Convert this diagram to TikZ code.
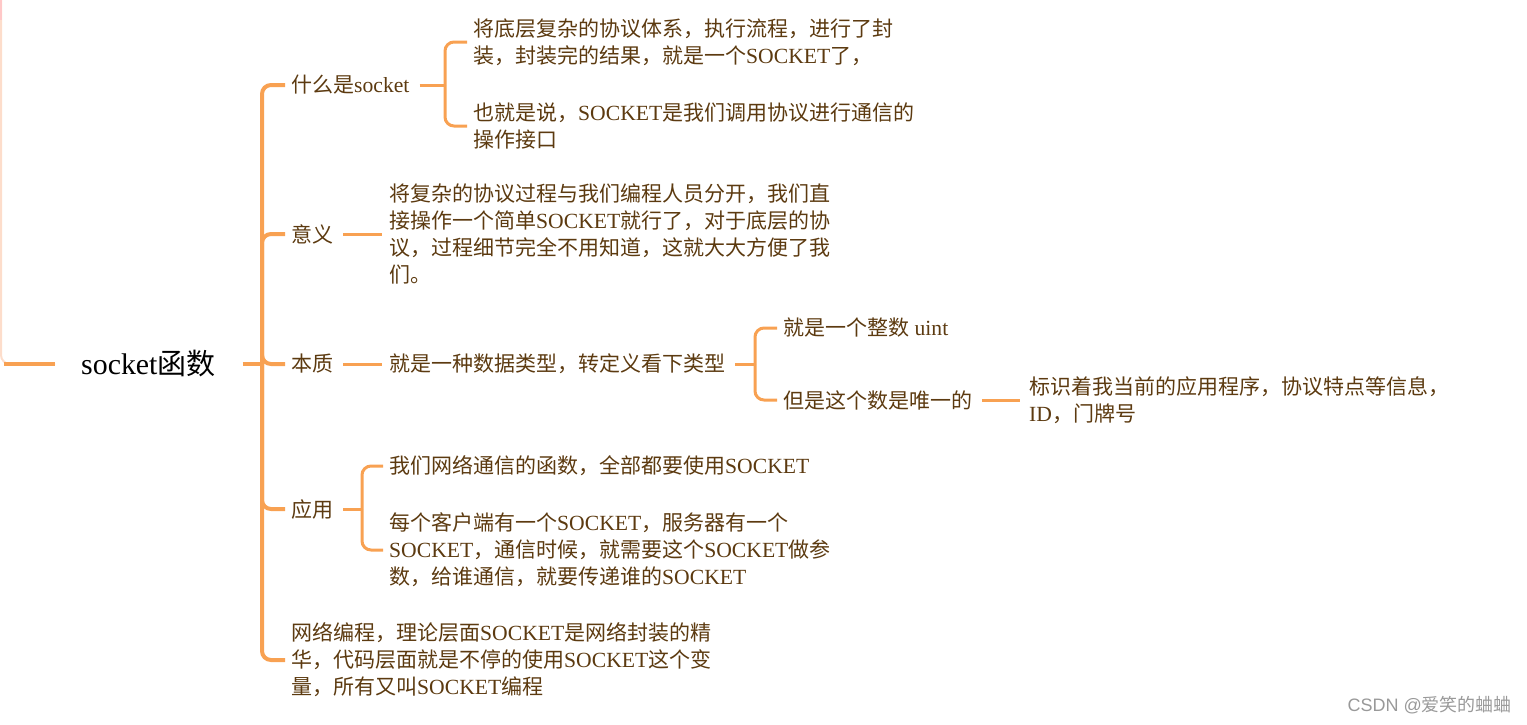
\documentclass[tikz,border=0pt]{standalone}
\usepackage{fontspec}
\setmainfont{Liberation Serif}[Scale=1.03]
\setsansfont{Liberation Sans}
\newfontfamily\cjkfont{Noto Sans CJK SC}
\XeTeXinterchartokenstate=1
\newXeTeXintercharclass\cjkclass
\newcount\cjkcode
\newcommand\setcjkrange[2]{%
	\cjkcode=#1\relax
	\loop
		\XeTeXcharclass\cjkcode=\cjkclass
		\ifnum\cjkcode<#2\relax \advance\cjkcode by 1
	\repeat}
\setcjkrange{"3000}{"303F}
\setcjkrange{"4E00}{"9FFF}
\setcjkrange{"FF00}{"FFEF}
\XeTeXinterchartoks 0 \cjkclass = {\cjkfont}
\XeTeXinterchartoks 4095 \cjkclass = {\cjkfont}
\XeTeXinterchartoks \cjkclass 0 = {\rmfamily}
\XeTeXinterchartoks \cjkclass 4095 = {\rmfamily}
\definecolor{branchorange}{HTML}{F8A152}
\definecolor{textbrown}{HTML}{5C3A10}
\definecolor{palepeach}{HTML}{FDDDCB}
\definecolor{palepink}{HTML}{FFC8C8}
\begin{document}
\begin{tikzpicture}[
		x = 1pt, y = -1pt,
		topic/.style = { anchor = west, inner sep = 0pt, align = left, text = textbrown, font = \fontsize{21}{27}\selectfont },
		root/.style = { anchor = west, inner sep = 0pt, text = black, font = \fontsize{29}{33}\selectfont },
		spine/.style = { draw = branchorange, line width = 4pt, rounded corners = 9pt },
		twig/.style = { draw = branchorange, line width = 3pt, rounded corners = 9pt }
	]
	\useasboundingbox (0, 0) rectangle (1527, 724);
	\node [root] (root) at (81, 364) {socket函数};
	\node [topic] (what) at (291, 85) {什么是socket};
	\node [topic] (meaning) at (291, 234) {意义};
	\node [topic] (essence) at (291, 364) {本质};
	\node [topic] (usage) at (291, 509) {应用};
	\node [topic] (summary) at (291, 660) {网络编程，理论层面SOCKET是网络封装的精\\
		华，代码层面就是不停的使用SOCKET这个变\\
		量，所有又叫SOCKET编程};
	\node [topic] (wrap) at (473, 42) {将底层复杂的协议体系，执行流程，进行了封\\
		装，封装完的结果，就是一个SOCKET了，};
	\node [topic] (iface) at (473, 126) {也就是说，SOCKET是我们调用协议进行通信的\\
		操作接口};
	\node [topic] (split) at (389, 234) {将复杂的协议过程与我们编程人员分开，我们直\\
		接操作一个简单SOCKET就行了，对于底层的协\\
		议，过程细节完全不用知道，这就大大方便了我\\
		们。};
	\node [topic] (datatype) at (389, 364) {就是一种数据类型，转定义看下类型};
	\node [topic] (uint) at (783, 328) {就是一个整数 uint};
	\node [topic] (unique) at (783, 400) {但是这个数是唯一的};
	\node [topic] (ident) at (1029, 400) {标识着我当前的应用程序，协议特点等信息，\\
		ID，门牌号};
	\node [topic] (netfunc) at (389, 466) {我们网络通信的函数，全部都要使用SOCKET};
	\node [topic] (param) at (389, 550) {每个客户端有一个SOCKET，服务器有一个\\
		SOCKET，通信时候，就需要这个SOCKET做参\\
		数，给谁通信，就要传递谁的SOCKET};
	\node [anchor = east, inner sep = 0pt, text = black!40, font = \sffamily\fontsize{18}{20}\selectfont] (mark) at (1512, 705) {CSDN @爱笑的蛐蛐};
	\coordinate (edgetop) at (1, 0);
	\coordinate (rootfork) at (262, 364);
	\coordinate (whatfork) at (445, 85);
	\coordinate (datafork) at (755, 364);
	\coordinate (usagefork) at (362, 509);
	\draw [line width = 2pt, palepeach, rounded corners = 9pt] (edgetop) |- ([xshift = -26pt]root.west);
	\draw [line width = 2pt, palepink] (edgetop) -- ++(0, 20);
	\draw [spine, rounded corners = 0pt] ([xshift = -77pt]root.west) -- ([xshift = -26pt]root.west);
	\draw [spine] ([xshift = 27pt]root.east) -- (rootfork);
	\foreach \topic in {what, meaning, essence, usage, summary}
		\draw [spine] (rootfork) |- ([xshift = -6pt]\topic.west);
	\draw [twig] ([xshift = 10pt]what.east) -- (whatfork);
	\foreach \leaf in {wrap, iface}
		\draw [twig] (whatfork) |- ([xshift = -6pt]\leaf.west);
	\draw [twig] ([xshift = 10pt]meaning.east) -- ([xshift = -7pt]split.west);
	\draw [twig] ([xshift = 10pt]essence.east) -- ([xshift = -7pt]datatype.west);
	\draw [twig] ([xshift = 10pt]datatype.east) -- (datafork);
	\foreach \leaf in {uint, unique}
		\draw [twig] (datafork) |- ([xshift = -6pt]\leaf.west);
	\draw [twig] ([xshift = 10pt]unique.east) -- ([xshift = -9pt]ident.west);
	\draw [twig] ([xshift = 10pt]usage.east) -- (usagefork);
	\foreach \leaf in {netfunc, param}
		\draw [twig] (usagefork) |- ([xshift = -6pt]\leaf.west);
\end{tikzpicture}
\end{document}
